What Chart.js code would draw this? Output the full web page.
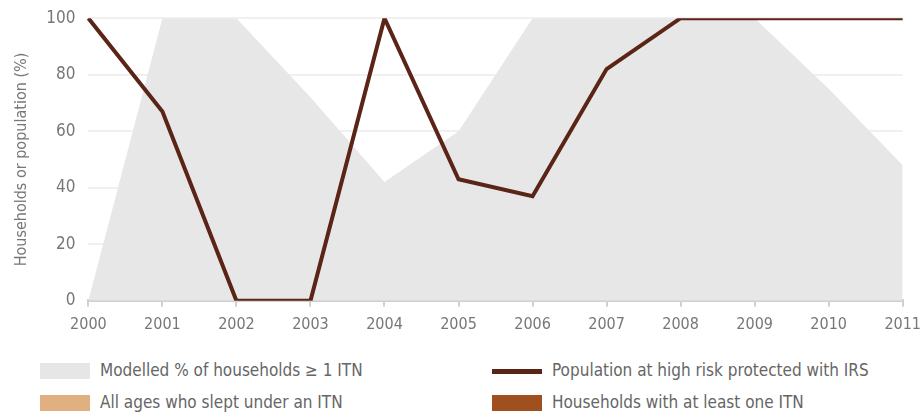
<!DOCTYPE html>
<html lang="en-US">
<head>
  <meta charset="utf-8">
  <title>ITN and IRS coverage</title>
  <script src="https://cdn.jsdelivr.net/npm/chart.js@4"></script>
  <style>
  body { margin: 0; background: #fff; overflow: hidden; }
  #holder { position: relative; width: 924px; height: 414px; overflow: hidden; }
  #chart-wrap { position: absolute; left: 0; top: -5px; width: 929px; height: 347px; }
  .legend { position: absolute; font-family: "DejaVu Sans Condensed", sans-serif;
    font-size: 17px; color: #666; white-space: nowrap; }
  .legend .sw { position: absolute; left: 0; }
  .legend span.t { position: absolute; left: 60px; top: -3px; }
  </style>
</head>
<body>
  <div id="holder">
    <div id="chart-wrap"><canvas id="chart"></canvas></div>
  </div>
  <script>
    var years = ['2000', '2001', '2002', '2003', '2004', '2005', '2006', '2007', '2008', '2009', '2010', '2011'];
    var modelledItn = [0, 100, 100, 72, 42, 60, 100, 100, 100, 100, 75, 48];
    var irsProtected = [100, 67, 0, 0, 100, 43, 37, 82, 100, 100, 100, 100];
    var yTicks = [0, 20, 40, 60, 80, 100];

    var legendItems = [
      { text: 'Modelled % of households \u2265 1 ITN', kind: 'box', color: '#e6e6e6', x: 40, y: 363 },
      { text: 'Population at high risk protected with IRS', kind: 'line', color: '#5a2416', x: 492, y: 363 },
      { text: 'All ages who slept under an ITN', kind: 'box', color: '#e0b080', x: 40, y: 395 },
      { text: 'Households with at least one ITN', kind: 'box', color: '#a0501e', x: 492, y: 395 }
    ];

    var font = "'DejaVu Sans Condensed', sans-serif";

    var config = {
      type: 'line',
      data: {
        labels: years,
        datasets: [{
          label: 'Population at high risk protected with IRS',
          data: irsProtected,
          borderColor: '#5a2416',
          borderWidth: 4,
          pointRadius: 0,
          fill: false,
          tension: 0,
          order: 1
        }, {
          label: 'Modelled % of households \u2265 1 ITN',
          data: modelledItn,
          borderWidth: 0,
          borderColor: 'rgba(0,0,0,0)',
          backgroundColor: '#e7e7e7',
          pointRadius: 0,
          fill: 'origin',
          order: 2
        }]
      },
      options: {
        responsive: true,
        maintainAspectRatio: false,
        animation: false,
        layout: { padding: { top: 5, right: 5, left: 10, bottom: 0 } },
        plugins: {
          legend: { display: false },
          tooltip: { enabled: false }
        },
        scales: {
          x: {
            offset: false,
            grid: { display: true, drawOnChartArea: false, drawTicks: true, tickLength: 6, color: '#d0d0d0', lineWidth: 2 },
            border: { color: '#d0d0d0', width: 3 },
            ticks: {
              color: '#777',
              font: { family: font, size: 16 },
              maxRotation: 0,
              padding: 8
            }
          },
          y: {
            min: 0,
            max: 100,
            afterBuildTicks: function (axis) {
              axis.ticks = yTicks.map(function (v) { return { value: v }; });
            },
            grid: { color: '#f0f0f0', lineWidth: 2, drawTicks: false },
            border: { display: false },
            ticks: {
              color: '#777',
              font: { family: font, size: 17 },
              padding: 13
            },
            title: {
              display: true,
              text: 'Households or population (%)',
              color: '#777',
              font: { family: font, size: 16 },
              padding: 2
            }
          }
        }
      }
    };

    window.onload = function () {
      var ctx = document.getElementById('chart').getContext('2d');
      window.myChart = new Chart(ctx, config);

      var holder = document.getElementById('holder');
      legendItems.forEach(function (item) {
        var div = document.createElement('div');
        div.className = 'legend';
        div.style.left = item.x + 'px';
        div.style.top = item.y + 'px';
        var sw = document.createElement('div');
        sw.className = 'sw';
        sw.style.width = '50px';
        if (item.kind === 'line') {
          sw.style.height = '5px';
          sw.style.top = '6px';
        } else {
          sw.style.height = '16px';
          sw.style.top = '0px';
        }
        sw.style.background = item.color;
        div.appendChild(sw);
        var t = document.createElement('span');
        t.className = 't';
        t.textContent = item.text;
        div.appendChild(t);
        holder.appendChild(div);
      });
    };
  </script>
</body>
</html>
